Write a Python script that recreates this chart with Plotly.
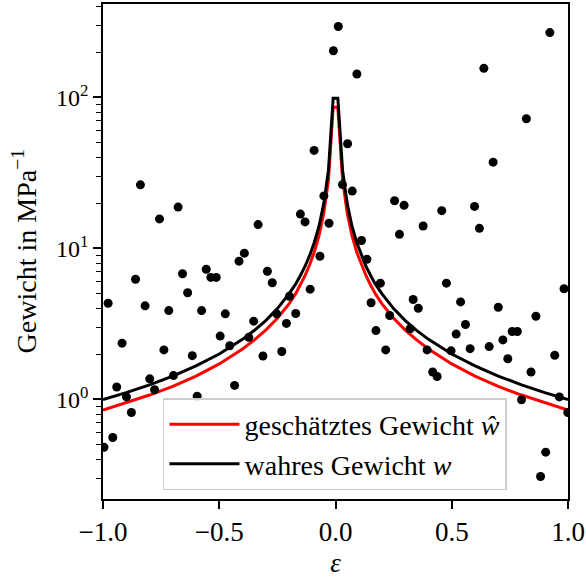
import plotly.graph_objects as go

# Scatter samples (epsilon, weight in MPa^-1)
eps_pts = [-0.839, -0.757, -0.677, -0.392, -0.333, -0.151, -0.131, -0.092, -0.050, -0.028,
           -0.009, 0.012, 0.092, 0.052, 0.030, 0.072, 0.112, 0.254, 0.295, 0.275,
           0.377, 0.457, 0.598, 0.619, 0.678, 0.638, 0.821, 0.922,
           -0.978, -0.860, -0.819, -0.918, -0.941, -0.899, -0.878, -0.958, -0.996, -0.799,
           -0.778, -0.738, -0.717, -0.697, -0.658, -0.636, -0.616, -0.595, -0.576, -0.556,
           -0.536, -0.513, -0.496, -0.474, -0.455, -0.434, -0.415, -0.352, -0.373, -0.312,
           -0.293, -0.272, -0.253, -0.231, -0.211, -0.198, -0.171, -0.109, -0.067,
           0.135, 0.193, 0.153, 0.174, 0.216, 0.233, 0.321, 0.334, 0.356, 0.394,
           0.418, 0.437, 0.477, 0.497, 0.519, 0.538, 0.559, 0.579, 0.661, 0.700,
           0.720, 0.741, 0.760, 0.782, 0.841, 0.862, 0.943, 0.963, 0.983, 0.800,
           0.999, 0.904, 0.882]
w_pts = [26.4, 15.7, 18.8, 9.31, 14.4, 16.9, 15.0, 44.6, 22.3, 14.7,
         204, 295, 143, 49.4, 26.5, 24.0, 11.3, 20.7, 19.3, 12.4,
         14.1, 17.8, 19.0, 13.6, 37.3, 156, 72.3, 269,
         4.34, 6.26, 4.17, 2.36, 1.21, 1.04, 0.82, 0.56, 0.483, 1.37,
         1.16, 2.13, 3.88, 1.44, 6.80, 5.09, 1.95, 1.05, 3.88, 7.29,
         6.43, 6.43, 2.63, 3.69, 2.27, 1.24, 8.24, 3.30, 2.58, 1.94,
         7.07, 5.93, 3.69, 2.08, 3.19, 4.83, 3.71, 5.38, 8.89,
         8.49, 5.89, 4.37, 2.86, 2.13, 3.60, 2.94, 4.59, 4.02, 2.13,
         1.52, 1.42, 5.89, 2.10, 2.71, 4.43, 3.14, 2.17, 2.24, 4.08,
         2.48, 1.86, 2.82, 2.82, 1.52, 3.56, 1.96, 1.04, 5.41, 0.995,
         0.82, 0.448, 0.309]

# Curves (positive half, mirrored for negative epsilon)
eps_half = [0.0101, 0.0303, 0.0505, 0.0707, 0.0909, 0.1111, 0.1313, 0.1515, 0.1717,
            0.2, 0.25, 0.3, 0.35, 0.4, 0.5, 0.6, 0.7, 0.8, 0.9, 1.0]
w_true_half = [99, 33, 19.8, 14.1, 11.0, 9.0, 7.6, 6.6, 5.8,
               5.0, 4.0, 3.33, 2.86, 2.5, 2.0, 1.67, 1.43, 1.25, 1.11, 1.0]
w_est_half = [86, 28.5, 17.1, 12.2, 9.5, 7.8, 6.6, 5.7, 5.0,
              4.3, 3.45, 2.88, 2.47, 2.16, 1.72, 1.43, 1.22, 1.07, 0.95, 0.85]

eps_curve = [-e for e in reversed(eps_half)] + eps_half
w_true = list(reversed(w_true_half)) + w_true_half
w_est = list(reversed(w_est_half)) + w_est_half

x_tickvals = [-1, -0.5, 0, 0.5, 1]
x_ticktext = ["−1.0", "−0.5", "0.0", "0.5", "1.0"]
y_tickvals = [1, 10, 100]
y_ticktext = ["10<sup>0</sup>", "10<sup>1</sup>", "10<sup>2</sup>"]
y_minor = [0.3, 0.4, 0.5, 0.6, 0.7, 0.8, 0.9, 2, 3, 4, 5, 6, 7, 8, 9,
           20, 30, 40, 50, 60, 70, 80, 90, 200, 300, 400]

label_est = "geschätztes Gewicht <i>ŵ</i>"
label_true = "wahres Gewicht <i>w</i>"
y_title = "Gewicht in MPa<sup>−1</sup>"

FONT = "Liberation Serif"

fig = go.Figure()
fig.add_trace(go.Scatter(x=eps_curve, y=w_est, mode="lines", name=label_est,
                         line=dict(color="#ff0000", width=3)))
fig.add_trace(go.Scatter(x=eps_curve, y=w_true, mode="lines", name=label_true,
                         line=dict(color="black", width=3)))
fig.add_trace(go.Scatter(x=eps_pts, y=w_pts, mode="markers",
                         marker=dict(color="black", size=9, line=dict(width=0)),
                         showlegend=False))

fig.update_layout(
    width=586, height=578,
    margin=dict(l=103, r=18, t=4, b=79),
    plot_bgcolor="white", paper_bgcolor="white",
    font=dict(family=FONT, size=26, color="black"),
    showlegend=True,
    legend=dict(x=0.129, y=0.018, xanchor="left", yanchor="bottom",
                bgcolor="rgba(255,255,255,0.8)", bordercolor="#cccccc", borderwidth=1.5,
                font=dict(family=FONT, size=28), itemwidth=70,
                tracegroupgap=0),
    annotations=[dict(text=y_title, textangle=-90, xref="paper", yref="paper",
                      x=-0.168, y=0.5, xanchor="center", yanchor="middle",
                      showarrow=False, font=dict(family=FONT, size=28))],
)
fig.update_xaxes(range=[-1, 1], tickvals=x_tickvals, ticktext=x_ticktext,
                 ticks="outside", ticklen=8, tickwidth=1.5, tickcolor="black",
                 showline=True, linecolor="black", linewidth=1.5, mirror=True,
                 showgrid=False, zeroline=False, automargin=False,
                 tickfont=dict(size=27),
                 title=dict(text="<i>ε</i>", standoff=12, font=dict(size=27)))
fig.update_yaxes(type="log", range=[-0.659, 2.619],
                 tickvals=y_tickvals, ticktext=y_ticktext,
                 ticks="outside", ticklen=8, tickwidth=1.5, tickcolor="black",
                 minor=dict(ticks="outside", ticklen=5, tickwidth=1.2, tickcolor="black",
                            tickvals=y_minor, showgrid=False),
                 showline=True, linecolor="black", linewidth=1.5, mirror=True,
                 showgrid=False, zeroline=False, automargin=False,
                 tickfont=dict(size=24))

fig.write_html("out.html", config={"displayModeBar": False},
               post_script="document.body.style.margin='0';")
